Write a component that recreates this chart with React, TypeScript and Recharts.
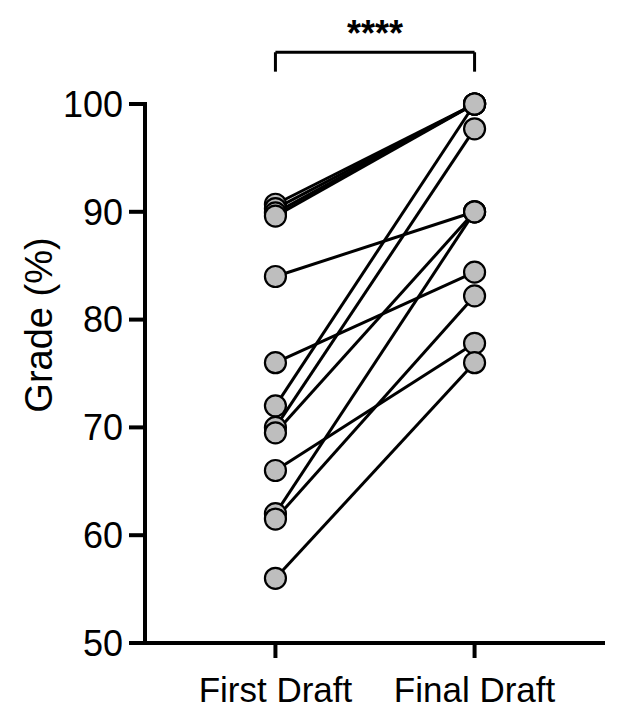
import React from 'react';
import {
  LineChart,
  Line,
  XAxis,
  YAxis,
  ReferenceLine,
} from 'recharts';

const categories = ['First Draft', 'Final Draft'];

// one entry per student, same order in both arrays
const firstDraft = [90.7, 90.3, 89.9, 89.6, 84, 76, 72, 70, 69.5, 66, 62, 61.5, 56];
const finalDraft = [100, 100, 100, 100, 90, 84.4, 100, 97.7, 90, 77.8, 90, 82.2, 76];

const yTicks = [50, 60, 70, 80, 90, 100];
const yLabel = 'Grade (%)';
const significance = '****';

const drafts = [firstDraft, finalDraft];
const keys = firstDraft.map((_, i) => `s${i}`);

const data = categories.map((_, ci) => {
  const row: { [key: string]: number } = { x: ci };
  keys.forEach((k, i) => {
    row[k] = drafts[ci][i];
  });
  return row;
});

const font = '"Liberation Sans", Arial, Helvetica, sans-serif';

// y title sits a bit above the middle of the axis, like the original figure
const YTitle = (props: any) => {
  const { viewBox } = props;
  const cx = viewBox.x + 39;
  const cy = viewBox.y + viewBox.height * 0.41;
  return (
    <text
      x={cx}
      y={cy}
      transform={`rotate(-90, ${cx}, ${cy})`}
      textAnchor="middle"
      dominantBaseline="central"
      fill="#000"
      fontSize={38}
      fontFamily={font}
    >
      {yLabel}
    </text>
  );
};

export default function App() {
  return (
    <div
      style={{
        position: 'absolute',
        left: 0,
        top: 0,
        width: 627,
        height: 724,
        background: '#fff',
        fontFamily: font,
      }}
    >
      <LineChart
        width={627}
        height={724}
        data={data}
        margin={{ top: 104, right: 22, bottom: 0, left: 0 }}
      >
        <XAxis
          dataKey="x"
          type="number"
          domain={[-0.655, 1.655]}
          ticks={[0, 1]}
          tickFormatter={(v: number) => categories[v]}
          height={81}
          axisLine={{ stroke: '#000', strokeWidth: 4 }}
          tickLine={{ stroke: '#000', strokeWidth: 4 }}
          tickSize={15}
          tickMargin={19}
          tick={{ fill: '#000', fontSize: 35, fontFamily: font }}
        />
        <YAxis
          type="number"
          domain={[50, 100]}
          ticks={yTicks}
          width={145}
          axisLine={{ stroke: '#000', strokeWidth: 4, strokeLinecap: 'square' }}
          tickLine={{ stroke: '#000', strokeWidth: 4 }}
          tickSize={16}
          tickMargin={6}
          tick={{ fill: '#000', fontSize: 36, fontFamily: font }}
          label={{ value: yLabel, content: YTitle }}
        />
        <ReferenceLine
          segment={[{ x: 0, y: 104.8 }, { x: 1, y: 104.8 }]}
          stroke="#000"
          strokeWidth={3}
          ifOverflow="visible"
          label={{
            value: significance,
            position: 'top',
            offset: 6,
            style: { fill: '#000', fontSize: 36, fontWeight: 'bold', fontFamily: font },
          }}
        />
        <ReferenceLine
          segment={[{ x: 0, y: 104.8 }, { x: 0, y: 103 }]}
          stroke="#000"
          strokeWidth={3}
          ifOverflow="visible"
        />
        <ReferenceLine
          segment={[{ x: 1, y: 104.8 }, { x: 1, y: 103 }]}
          stroke="#000"
          strokeWidth={3}
          ifOverflow="visible"
        />
        {keys.map((k) => (
          <Line
            key={`line-${k}`}
            type="linear"
            dataKey={k}
            stroke="#000"
            strokeWidth={3}
            dot={false}
            activeDot={false}
            isAnimationActive={false}
          />
        ))}
        {keys.map((k) => (
          <Line
            key={`dot-${k}`}
            type="linear"
            dataKey={k}
            stroke="none"
            dot={{ r: 10.5, fill: '#bebebe', stroke: '#000', strokeWidth: 2.2 }}
            activeDot={false}
            isAnimationActive={false}
          />
        ))}
      </LineChart>
    </div>
  );
}
